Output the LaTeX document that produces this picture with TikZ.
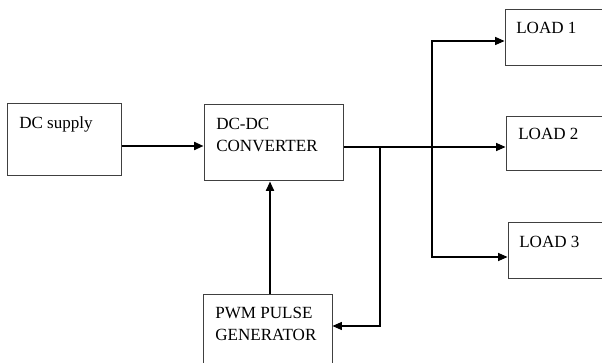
\documentclass[tikz,border=0pt]{standalone}
\usepackage{fontspec}
\setmainfont{Liberation Serif}
\usetikzlibrary{arrows.meta,calc}
\begin{document}
\begin{tikzpicture}[x=0.75pt,y=-0.75pt,
  box/.style={draw=black!75,line width=0.75pt,rectangle,inner sep=0pt},
  lbl/.style={anchor=base west,inner sep=0pt,font=\fontsize{12.8}{16.5}\selectfont,align=left},
  arr/.style={line width=0.8pt,-{Triangle[length=7pt,width=6pt]}},
  thk/.style={line width=1.3pt,-{Triangle[length=7pt,width=6pt]}},
  ln/.style={line width=0.8pt}]
\useasboundingbox (0,0) rectangle (602,363);
\begin{scope}
\clip (0,0) rectangle (602,363);
\node[box,minimum width=85.5pt,minimum height=54pt] (dc) at (64,140) {};
\node[box,minimum width=104.25pt,minimum height=57pt] (conv) at (273.5,143) {};
\node[box,minimum width=75pt,minimum height=42pt] (load1) at (555,38) {};
\node[box,minimum width=74.25pt,minimum height=40.5pt] (load2) at (555.5,144) {};
\node[box,minimum width=72.75pt,minimum height=42pt] (load3) at (556.5,250) {};
\node[box,minimum width=96.75pt,minimum height=57pt] (pwm) at (267.5,332) {};
\end{scope}
\node[lbl] (t1) at (19,129) {DC supply};
\node[lbl] (t2) at (216,152) {DC-DC\\CONVERTER};
\node[lbl] (t3) at (516,34) {LOAD 1};
\node[lbl] (t4) at (518,140) {LOAD 2};
\node[lbl] (t5) at (519,247) {LOAD 3};
\node[lbl] (t6) at (215,340) {PWM PULSE\\GENERATOR};
% connectors
\coordinate (a1) at (dc.east |- 0,146);
\coordinate (a2) at (conv.west |- 0,146);
\draw[thk] (a1) -- (a2);
\coordinate (c1) at (conv.east |- 0,147);
\coordinate (c2) at (load2.west |- 0,147);
\coordinate (j1) at (380,147);
\coordinate (j2) at (432,147);
\draw[arr] (c1) -- (c2);
\coordinate (l1) at (load1.west |- 0,41);
\coordinate (l3) at (load3.west |- 0,257);
\draw[arr] (j2) |- (l1);
\draw[arr] (j2) |- (l3);
\coordinate (p1) at (pwm.east |- 0,326);
\draw[arr] (j1) |- (p1);
\coordinate (u1) at (pwm.north -| 270,0);
\coordinate (u2) at (conv.south -| 270,0);
\draw[thk] (u1) -- (u2);
\end{tikzpicture}
\end{document}
